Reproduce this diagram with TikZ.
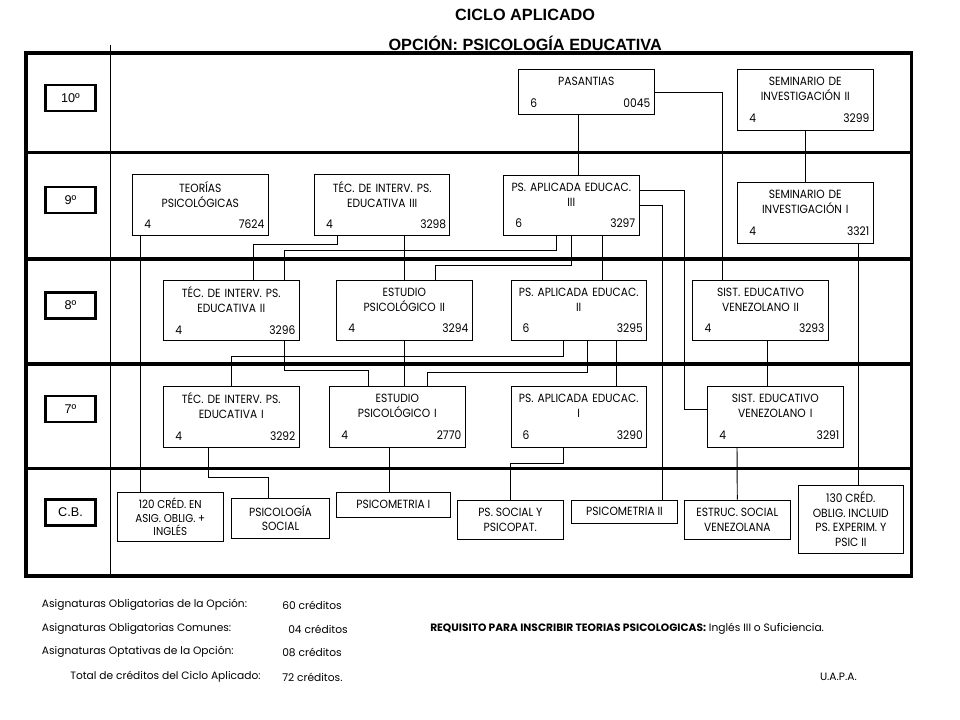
\documentclass[tikz,border=0pt]{standalone}
\usepackage{fontspec}
\newfontfamily\gothic{Poppins}[FakeStretch=0.9]
\newfontfamily\gothicw{Poppins}
\newfontfamily\arial{Liberation Sans}
\newcommand\nums[2]{\hspace*{6pt}#1\hfill#2\hspace*{6pt}}

\begin{document}
\begin{tikzpicture}[
  x=0.75pt,y=-0.75pt,
  frame/.style={line width=2.4pt},
  lvl/.style={draw, line width=2.2pt, minimum width=37.5pt, minimum height=19.5pt, inner sep=0pt, font=\arial\fontsize{9.5}{10}\selectfont},
  crs/.style={draw, line width=0.7pt, minimum width=101.5pt, minimum height=45.5pt, text width=96pt, inner sep=0pt, align=center, font=\gothic\fontsize{8.9}{11.25}\selectfont},
  cb/.style={draw, line width=0.7pt, inner sep=0pt, align=center, font=\gothic\fontsize{8.9}{11}\selectfont},
  ttl/.style={font=\arial\bfseries\fontsize{12.2}{14}\selectfont, inner sep=0pt},
  foot/.style={anchor=west, inner sep=0pt, font=\gothicw\fontsize{8}{9}\selectfont},
  con/.style={line width=0.7pt}
]
\useasboundingbox (0,0) rectangle (960,720);
\node[ttl, anchor=east] (t2) at (662,43) {OPCIÓN: PSICOLOGÍA EDUCATIVA};
\coordinate (ty) at (0,15);
\node[ttl] (t1) at (t2 |- ty) {CICLO APLICADO};

\draw[frame] (26,53) rectangle (911.5,576);
\foreach \y in {152.5,259,364,468.5} \draw[frame] (26,\y) -- (911.5,\y);
\draw[con] (110.7,45) -- (110.7,576);
\foreach \t/\y [count=\i] in {10º/98,9º/200,8º/305.5,7º/409,C.B./512.5}
  \node[lvl] (lv\i) at (70.5,\y) {\t};

\node[crs, minimum height=34pt] (pas) at (586.3,92.2) {PASANTIAS\\[5pt]\nums{6}{0045}};
\node[crs] (sem2) at (805.3,99.7) {SEMINARIO DE\\INVESTIGACIÓN II\\[5pt]\nums{4}{3299}};
\node[crs] (teo) at (200.3,205) {TEORÍAS\\PSICOLÓGICAS\\[5pt]\nums{4}{7624}};
\node[crs] (tec3) at (382.2,205) {TÉC. DE INTERV. PS.\\EDUCATIVA III\\[5pt]\nums{4}{3298}};
\node[crs] (pa3) at (571.3,205.4) {PS. APLICADA EDUCAC.\\III\\[5pt]\nums{6}{3297}};
\node[crs] (sem1) at (805.3,213) {SEMINARIO DE\\INVESTIGACIÓN I\\[5pt]\nums{4}{3321}};
\node[crs] (tec2) at (231.3,310.5) {TÉC. DE INTERV. PS.\\EDUCATIVA II\\[5pt]\nums{4}{3296}};
\node[crs] (est2) at (404.3,310.5) {ESTUDIO\\PSICOLÓGICO II\\[5pt]\nums{4}{3294}};
\node[crs] (pa2) at (578.7,310.5) {PS. APLICADA EDUCAC.\\II\\[5pt]\nums{6}{3295}};
\node[crs] (sis2) at (760.5,310.5) {SIST. EDUCATIVO\\VENEZOLANO II\\[5pt]\nums{4}{3293}};
\node[crs] (tec1) at (231.3,416.7) {TÉC. DE INTERV. PS.\\EDUCATIVA I\\[5pt]\nums{4}{3292}};
\node[crs] (est1) at (397.3,416.7) {ESTUDIO\\PSICOLÓGICO I\\[5pt]\nums{4}{2770}};
\node[crs] (pa1) at (578.7,416.7) {PS. APLICADA EDUCAC.\\I\\[5pt]\nums{6}{3290}};
\node[crs] (sis1) at (775.3,416.7) {SIST. EDUCATIVO\\VENEZOLANO I\\[5pt]\nums{4}{3291}};

\node[cb, minimum width=79pt, minimum height=36.5pt, font=\gothic\fontsize{8.6}{10}\selectfont] (cred120) at (170.3,516.8) {120 CRÉD. EN\\ASIG. OBLIG. +\\INGLÉS};
\node[cb, minimum width=73pt, minimum height=30pt] (psoc) at (280.5,518.2) {PSICOLOGÍA\\SOCIAL};
\node[cb, minimum width=85pt, minimum height=18.5pt] (psm1) at (393.3,504.8) {PSICOMETRIA I};
\node[cb, minimum width=79pt, minimum height=29.5pt] (pssoc) at (510.3,519.7) {PS. SOCIAL Y\\PSICOPAT.};
\node[cb, minimum width=79pt, minimum height=17.5pt] (psm2) at (624.5,511.7) {PSICOMETRIA II};
\node[cb, minimum width=79pt, minimum height=29.5pt] (estruc) at (737.3,519.7) {ESTRUC. SOCIAL\\VENEZOLANA};
\node[cb, minimum width=78.5pt, minimum height=51pt] (cred130) at (850.8,519.2) {130 CRÉD.\\OBLIG. INCLUID\\PS. EXPERIM. Y\\PSIC II};

\draw[con] (pas.south -| 578,0) -- (pa3.north -| 578,0);
\draw[con] (pas.east) -| (sis2.north -| 722,0);
\draw[con] (sem2.south) -- (sem1.north);
\draw[con] (teo.south -| 140,0) -- (cred120.north -| 140,0);
\draw[con] (tec3.south -| 337,0) |- (253,244) -- (tec2.north -| 253,0);
\draw[con] (tec3.south -| est2.north) -- (est2.north);
\draw[con] (pa3.south -| 556,0) |- (284,250) -- (tec2.north -| 284,0);
\draw[con] (pa3.south) |- (435,265) -- (est2.north -| 435,0);
\draw[con] (pa3.south -| 602,0) -- (pa2.north -| 602,0);
\draw[con] (pa3.east) -| (psm2.north -| 662,0);
\draw[con] (pa3.east |- 0,190) -| (684,409) -- (sis1.west |- 0,409);
\draw[con] (sem1.south -| 858,0) -- (cred130.north -| 858,0);
\draw[con] (tec2.south -| 284,0) |- (368,370) -- (est1.north -| 368,0);
\draw[con] (est2.south) -- (est2.south |- est1.north);
\draw[con] (pa2.south -| 563,0) |- (231.3,356.5) -- (tec1.north);
\draw[con] (pa2.south -| 587,0) |- (427,372) -- (est1.north -| 427,0);
\draw[con] (pa2.south -| 616,0) -- (pa1.north -| 616,0);
\draw[con] (sis2.south -| 767,0) -- (sis1.north -| 767,0);
\draw[con] (tec1.south -| 208,0) |- (268,477) -- (psoc.north -| 268,0);
\draw[con] (est1.south -| 389,0) -- (psm1.north -| 389,0);
\draw[con] (pa1.south -| 563,0) |- (pssoc.north |- 0,463) -- (pssoc.north);
\draw[con] (sis1.south -| 737,0) -- (estruc.north);

\node[foot] (f1) at (41.7,605) {Asignaturas Obligatorias de la Opción:};
\node[foot] (k1) at (282,605) {60 créditos};
\node[foot] (f2) at (41.7,629) {Asignaturas Obligatorias Comunes:};
\node[foot] (k2) at (288,629) {04 créditos};
\node[foot] (f3) at (41.7,652) {Asignaturas Optativas de la Opción:};
\node[foot] (k3) at (282,652) {08 créditos};
\node[foot] (f4) at (70,677) {Total de créditos del Ciclo Aplicado:};
\node[foot] (k4) at (282,677) {72 créditos.};
\node[foot] (req) at (430,629) {\textbf{REQUISITO PARA INSCRIBIR TEORIAS PSICOLOGICAS:} Inglés III o Suficiencia.};
\node[foot, anchor=east] (uapa) at (857,677) {U.A.P.A.};
\end{tikzpicture}
\end{document}
